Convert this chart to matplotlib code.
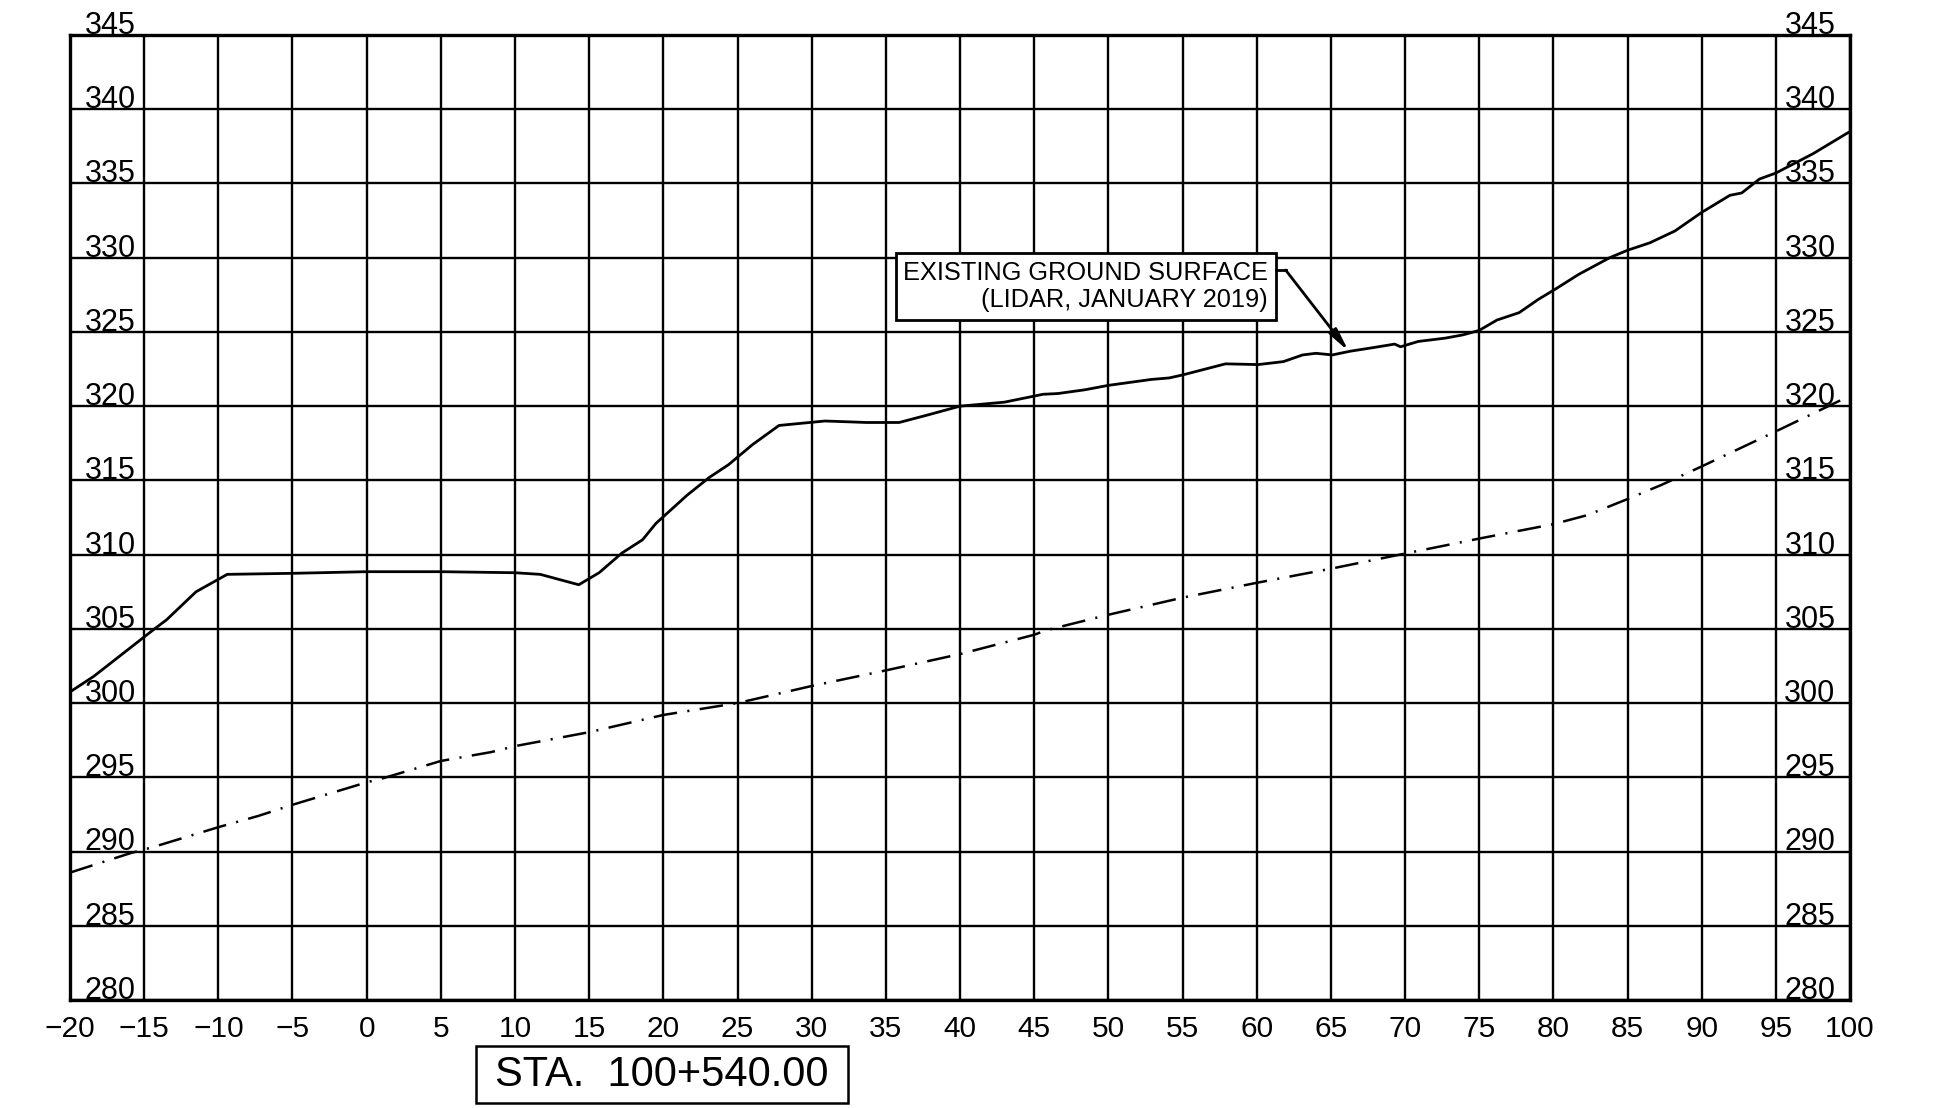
import matplotlib
matplotlib.use("Agg")
import matplotlib.pyplot as plt
from matplotlib.patches import Rectangle

plt.rcParams['font.family'] = ['Liberation Sans', 'DejaVu Sans']
plt.rcParams['lines.scale_dashes'] = False

# existing ground surface (offset, elevation)
ground_x = [-20, -18.4, -14.3, -13.5, -11.5, -9.4, -5, 0, 5, 10, 11.7, 14.3, 15.67,
            17.2, 18.6, 19.5, 21.6, 23.1, 24.4, 26.0, 27.8, 30.9, 33.7, 35.9, 37.8,
            40, 43, 45.6, 46.6, 48.4, 50, 52.9, 54.1, 55, 57.9, 60.1, 61.8, 63.1,
            64, 65.1, 66.3, 67.9, 69.3, 69.7, 70.9, 72.7, 73.9, 75, 76.2, 77.7, 79,
            80.1, 81.7, 83.8, 85, 86.5, 88.2, 90, 91.9, 92.7, 93.9, 95, 97.5, 100]
ground_y = [300.75, 301.8, 305.0, 305.6, 307.5, 308.67, 308.74, 308.85, 308.85, 308.78,
            308.67, 307.97, 308.78, 310.1, 311.0, 312.1, 314.0, 315.2, 316.06, 317.4,
            318.7, 319.0, 318.9, 318.9, 319.4, 320.0, 320.27, 320.8, 320.85, 321.1,
            321.4, 321.8, 321.9, 322.1, 322.85, 322.8, 323.0, 323.45, 323.56, 323.45,
            323.7, 323.95, 324.18, 324.0, 324.36, 324.58, 324.8, 325.1, 325.8, 326.3,
            327.2, 327.86, 328.87, 330.0, 330.5, 331.0, 331.8, 333.05, 334.2, 334.36,
            335.3, 335.7, 337.0, 338.5]

# dash-dot line
grade_x = [-20, -15.9, -14.4, -10, -7.3, -5, 0, 1.15, 5, 8.4, 10, 15, 20, 25, 30, 35,
           40, 45, 45.8, 50, 55, 60, 65, 70, 75, 80, 82.3, 84.9, 87.3, 90, 95, 100]
grade_y = [288.58, 289.9, 290.3, 291.64, 292.4, 293.15, 294.66, 294.95, 296.1, 296.7,
           297.1, 298.04, 299.2, 300.0, 301.15, 302.2, 303.3, 304.6, 304.9, 305.95,
           307.1, 308.1, 309.05, 310.07, 311.08, 312.05, 312.66, 313.7, 314.7, 315.94,
           318.3, 320.7]

x_ticks = list(range(-20, 101, 5))
y_ticks = list(range(280, 346, 5))
x_labels = [str(v).replace('-', '\u2212') for v in x_ticks]

label_text = "EXISTING GROUND SURFACE\n(LIDAR, JANUARY 2019)"
station_text = "STA.  100+540.00"

fig = plt.figure(figsize=(19.34, 11.08), dpi=100)
ax = fig.add_axes([70 / 1934, 1 - 1000 / 1108, 1780 / 1934, 965 / 1108])

ax.set_xlim(-20, 100)
ax.set_ylim(280, 345)
ax.set_xticks(x_ticks)
ax.set_xticklabels(x_labels, fontsize=21.5)
ax.set_yticks(y_ticks)
ax.set_yticklabels([])
ax.tick_params(length=0, pad=11)
ax.grid(True, color='black', lw=1.7)
ax.set_axisbelow(True)
for s in ax.spines.values():
    s.set_linewidth(2.4)

ax.plot(ground_x, ground_y, color='black', lw=2.0, zorder=3)
ax.plot(grade_x, grade_y, color='black', lw=1.8, zorder=3,
        dashes=(17, 7.5, 1.5, 7.5))

# elevation labels inside first and last columns
for v in y_ticks:
    ax.text(-17.3, v + 0.07, str(v), ha='center', va='baseline', fontsize=22)
    ax.text(97.3, v + 0.07, str(v), ha='center', va='baseline', fontsize=22)

# callout
ax.text(60.78, 328.06, label_text, ha='right', va='center', multialignment='right',
        fontsize=18.3, linespacing=1.15, zorder=5,
        bbox=dict(boxstyle='square,pad=0.3', fc='white', ec='black', lw=2.0))
ax.plot([61.3, 61.95], [329.17, 329.17], color='black', lw=2.0, zorder=5)
ax.annotate('', xy=(66.2, 323.7), xytext=(61.95, 329.17), zorder=5,
            arrowprops=dict(arrowstyle='-|>,head_length=0.9,head_width=0.18',
                            mutation_scale=15, color='black', lw=2.0,
                            shrinkA=0, shrinkB=0))

# station box
fig.patches.append(Rectangle((476 / 1934, 1 - 1103 / 1108), 372 / 1934, 57 / 1108,
                             transform=fig.transFigure, fill=False, ec='black',
                             lw=1.8, figure=fig))
fig.text(662 / 1934, 1 - 1074.5 / 1108, station_text, ha='center', va='center',
         fontsize=30)

fig.savefig('out.png', dpi=100)
